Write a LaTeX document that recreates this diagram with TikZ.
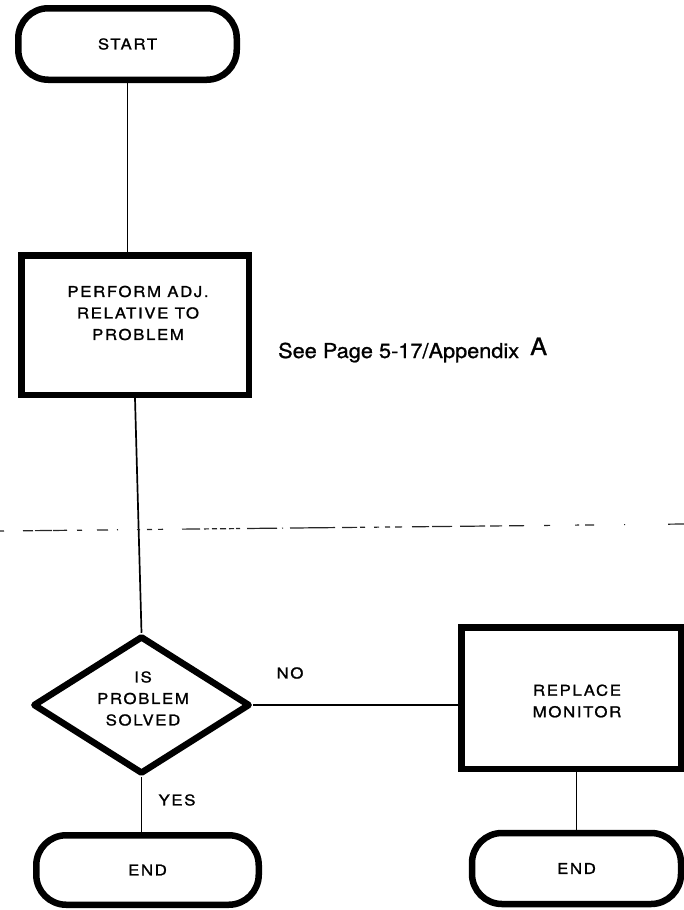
\documentclass[tikz,border=0pt]{standalone}
\usepackage{fontspec}
\newfontfamily\boxfont[LetterSpace=11, FakeStretch=1.12, FakeBold=1.2]{TeX Gyre Heros}
\newfontfamily\notefont[FakeBold=1, FakeStretch=1.06]{TeX Gyre Heros}
\usetikzlibrary{shapes.geometric}
\tikzset{
  heavy/.style={draw=black, line width=6.5pt},
  boxtext/.style={font={\boxfont\fontsize{15}{21.5}\selectfont}, align=center},
  stadium/.style={heavy, rectangle, rounded corners=30pt, inner sep=0pt, boxtext},
  procbox/.style={heavy, rectangle, inner sep=0pt, boxtext},
  decision/.style={heavy, diamond, inner sep=0pt, line join=round},
  lbl/.style={boxtext, inner sep=0pt},
  conn/.style={line width=1.7pt},
  cutline/.style={line width=1.2pt, black!85},
}
\begin{document}
\begin{tikzpicture}[x=1pt,y=-1pt]
\useasboundingbox (0,0) rectangle (684,910);

% terminals and process boxes
\node[stadium, minimum width=218.5pt, minimum height=71.5pt] (start) at (127.5,44) {START};
\node[procbox, minimum width=227.5pt, minimum height=139.5pt] (b1) at (135,325) {};
\node[lbl] (t1) at (138,313) {PERFORM ADJ.\\RELATIVE TO\\PROBLEM};
\node[anchor=base west, inner sep=0pt, font={\notefont\fontsize{20.5}{20.5}\selectfont}] (note) at (278,358)
  {See Page 5-17/Appendix\hspace{11pt}\raisebox{3pt}{\fontsize{24}{24}\selectfont A}};

\node[decision, minimum width=217pt, minimum height=138pt] (dia) at (141.5,705) {};
\node[lbl] (t2) at (143,698.5) {IS\\PROBLEM\\SOLVED};

\node[procbox, minimum width=219.5pt, minimum height=141.5pt] (b2) at (571,698) {};
\node[lbl] (t3) at (577,701) {REPLACE\\MONITOR};

\node[stadium, minimum width=222.5pt, minimum height=69.5pt] (e1) at (147.5,870) {END};
\node[stadium, minimum width=209pt, minimum height=71pt] (e2) at (576.5,868.5) {END};

\node[lbl] (no) at (290,673) {NO};
\node[lbl] (yes) at (177,800) {YES};

% connectors
\draw[conn] (start.south) -- (start.south |- b1.north);
\draw[conn] (b1.south) -- (dia.north);
\draw[conn] (dia.east) -- (dia.east -| b2.west);
\draw[conn] (dia.south) -- (dia.south |- e1.north);
\draw[conn] (e2.north |- b2.south) -- (e2.north);

% broken cut line across the page
\foreach \a/\b in {0/4, 23/33, 35/52, 53/67, 77/82, 97/108, 117/118, 137/140, 147/152, 158/163,
  182/200, 204/209, 212/217, 220/226, 229/234, 236/240, 247/277, 282/283, 290/335,
  342/357, 360/365, 374/379, 385/390, 395/402, 412/429, 432/452, 460/485, 490/502, 509/524,
  544/550, 575/579, 585/594, 624/625, 668/684}
  \draw[cutline] ({\a},{531-7*\a/684}) -- ({\b},{531-7*\b/684});
\end{tikzpicture}
\end{document}
